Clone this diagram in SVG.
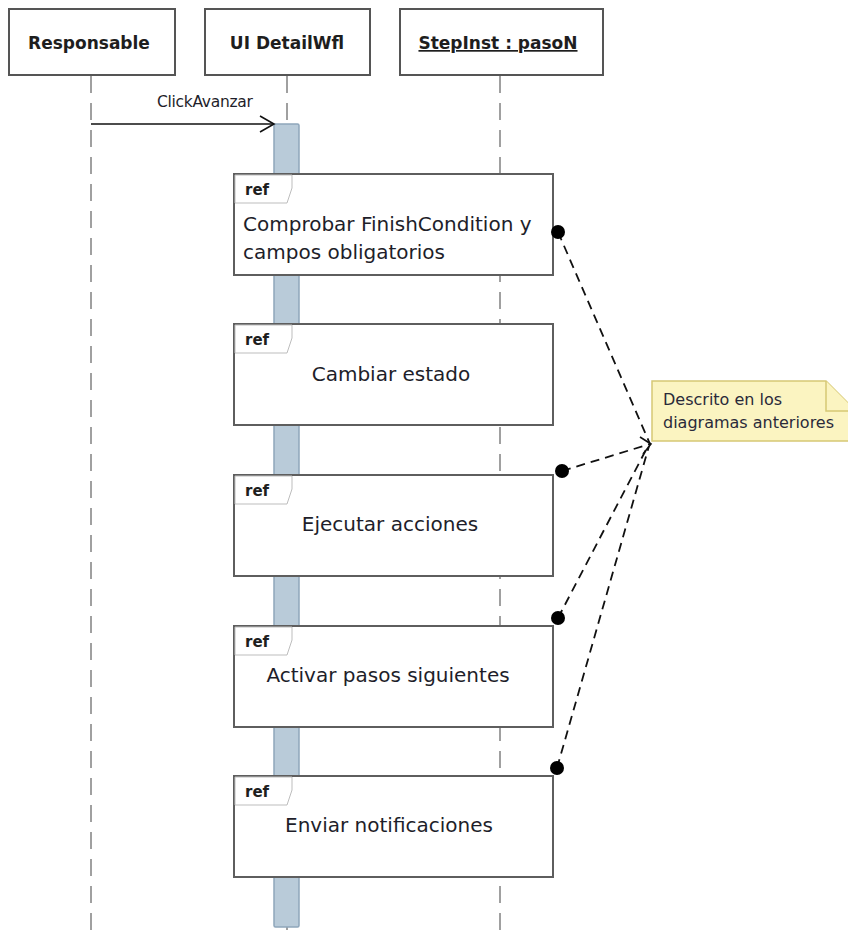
<svg xmlns="http://www.w3.org/2000/svg" width="848" height="934" viewBox="0 0 848 934">
  <defs>
    <style>
      .head { fill: #ffffff; stroke: #555555; stroke-width: 2; }
      .headtxt { font-family: "DejaVu Sans", "Liberation Sans", sans-serif; font-weight: bold; font-size: 17px; fill: #1e1e1e; text-anchor: middle; }
      .life { stroke: #a0a0a0; stroke-width: 2; stroke-dasharray: 17 10; fill: none; }
      .act { fill: #b9cbd9; stroke: #8ea6bb; stroke-width: 1.5; }
      .ref { fill: #ffffff; stroke: #5e5e5e; stroke-width: 2; }
      .tab { fill: #ffffff; stroke: #bdbdbd; stroke-width: 1; }
      .reftag { font-family: "DejaVu Sans", "Liberation Sans", sans-serif; font-weight: bold; font-size: 15px; fill: #1e1e1e; }
      .reftxt { font-family: "DejaVu Sans", "Liberation Sans", sans-serif; font-size: 20px; fill: #1e1e2a; }
      .mid { text-anchor: middle; }
      .msg { font-family: "DejaVu Sans", "Liberation Sans", sans-serif; font-size: 15.5px; fill: #1e1e2a; letter-spacing: -0.3px; }
      .link { stroke: #111111; stroke-width: 1.8; stroke-dasharray: 9 6; fill: none; }
      .note { fill: #fbf4c1; stroke: #d6c874; stroke-width: 1.5; }
      .notetxt { font-family: "DejaVu Sans", "Liberation Sans", sans-serif; font-size: 16px; fill: #2a2a3a; }
    </style>
  </defs>

  <rect width="848" height="934" fill="#ffffff"/>

  <!-- lifelines -->
  <g id="lifelines">
    <line class="life" x1="91" y1="76" x2="91" y2="934"/>
    <line class="life" x1="287" y1="76" x2="287" y2="934"/>
    <line class="life" x1="500" y1="76" x2="500" y2="934"/>
  </g>

  <!-- participants -->
  <g id="responsable">
    <rect class="head" x="9" y="9" width="166" height="66"/>
    <text class="headtxt" x="89" y="49">Responsable</text>
  </g>
  <g id="ui-detailwfl">
    <rect class="head" x="205" y="9" width="165" height="66"/>
    <text class="headtxt" x="287" y="49">UI DetailWfl</text>
  </g>
  <g id="stepinst">
    <rect class="head" x="400" y="9" width="203" height="66"/>
    <text class="headtxt" x="498" y="49" text-decoration="underline">StepInst : pasoN</text>
  </g>

  <!-- activation of UI DetailWfl -->
  <g id="activation">
    <rect class="act" x="274" y="124" width="25" height="803" rx="1.5"/>
  </g>

  <!-- interaction uses -->
  <g id="ref-comprobar">
    <rect class="ref" x="234" y="174" width="319" height="101"/>
    <path class="tab" d="M235,175 H292 V188 L287,203 H235 Z"/>
    <text class="reftag" x="245" y="195">ref</text>
    <text class="reftxt" x="243" y="231">Comprobar FinishCondition y</text>
    <text class="reftxt" x="243" y="259">campos obligatorios</text>
  </g>
  <g id="ref-cambiar">
    <rect class="ref" x="234" y="324" width="319" height="101"/>
    <path class="tab" d="M235,325 H292 V338 L287,353 H235 Z"/>
    <text class="reftag" x="245" y="345">ref</text>
    <text class="reftxt mid" x="391" y="381">Cambiar estado</text>
  </g>
  <g id="ref-ejecutar">
    <rect class="ref" x="234" y="475" width="319" height="101"/>
    <path class="tab" d="M235,476 H292 V489 L287,504 H235 Z"/>
    <text class="reftag" x="245" y="496">ref</text>
    <text class="reftxt mid" x="390" y="531">Ejecutar acciones</text>
  </g>
  <g id="ref-activar">
    <rect class="ref" x="234" y="626" width="319" height="101"/>
    <path class="tab" d="M235,627 H292 V640 L287,655 H235 Z"/>
    <text class="reftag" x="245" y="647">ref</text>
    <text class="reftxt mid" x="388" y="682">Activar pasos siguientes</text>
  </g>
  <g id="ref-enviar">
    <rect class="ref" x="234" y="776" width="319" height="101"/>
    <path class="tab" d="M235,777 H292 V790 L287,805 H235 Z"/>
    <text class="reftag" x="245" y="797">ref</text>
    <text class="reftxt mid" x="389" y="832">Enviar notificaciones</text>
  </g>

  <!-- note -->
  <g id="note">
    <path class="note" d="M652,381 H826 L856,411 V441 H652 Z"/>
    <path class="note" d="M826,381 V411 H856"/>
    <text class="notetxt" x="663" y="405">Descrito en los</text>
    <text class="notetxt" x="663" y="428">diagramas anteriores</text>
  </g>

  <!-- connectors -->
  <g id="connectors">
    <line x1="91" y1="124" x2="273" y2="124" stroke="#111111" stroke-width="1.6"/>
    <polyline points="260,116 274,124 260,132" fill="none" stroke="#111111" stroke-width="1.6"/>
    <text class="msg" x="157" y="107">ClickAvanzar</text>

    <line class="link" x1="558" y1="232" x2="650" y2="444"/>
    <line class="link" x1="562" y1="471" x2="650" y2="444"/>
    <line class="link" x1="558" y1="618" x2="648" y2="446"/>
    <line class="link" x1="557" y1="768" x2="649" y2="446"/>
    <polyline points="640,437 651,444 643,454" fill="none" stroke="#111111" stroke-width="1.6"/>
    <circle cx="558" cy="232" r="7" fill="#000000"/>
    <circle cx="562" cy="471" r="7" fill="#000000"/>
    <circle cx="558" cy="618" r="7" fill="#000000"/>
    <circle cx="557" cy="768" r="7" fill="#000000"/>
  </g>
</svg>
